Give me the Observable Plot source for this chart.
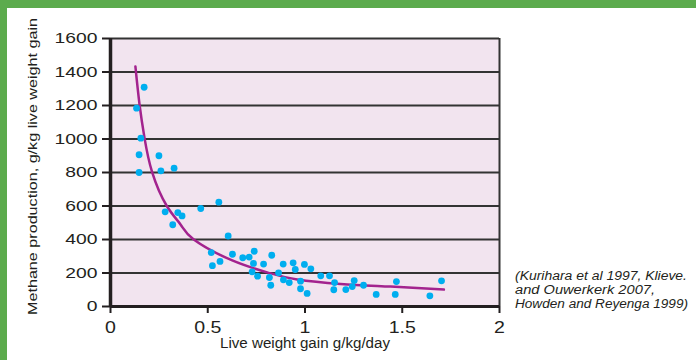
<!DOCTYPE html>
<html>
<head>
<meta charset="utf-8">
<script src="https://cdn.jsdelivr.net/npm/d3@7"></script>
<script src="https://cdn.jsdelivr.net/npm/@observablehq/plot@0.6"></script>
<style>
  html, body { margin: 0; padding: 0; background: #ffffff; }
  #wrap { position: relative; width: 696px; height: 360px; overflow: hidden; }
  #wrap svg { position: absolute; left: 0; top: 0; }
  .band { position: absolute; background: #5cab4d; }
</style>
</head>
<body>
<div id="wrap">
  <div class="band" style="left:0;top:0;width:696px;height:8px;"></div>
  <div class="band" style="left:0;top:0;width:7px;height:360px;"></div>
</div>
<script>
// Observed data points (live weight gain g/kg/day, methane g/kg live weight gain)
const gainX = [0.134,0.173,0.156,0.147,0.147,0.249,0.259,0.327,0.281,0.346,0.368,0.320,0.464,0.557,0.605,
  0.518,0.524,0.563,0.627,0.680,0.713,0.739,0.735,0.728,0.756,0.787,0.829,0.817,0.824,0.864,0.888,0.889,
  0.919,0.939,0.950,0.977,0.977,0.997,1.011,1.030,1.081,1.126,1.152,1.148,1.210,1.243,1.253,1.301,1.366,
  1.464,1.470,1.642,1.702];
const methaneY = [1184,1309,1005,906,800,900,810,826,565,561,541,488,585,623,421,
  322,244,269,312,291,295,330,257,207,181,253,306,173,127,201,253,159,
  143,261,221,151,106,251,78,225,183,183,143,100,101,119,155,127,72,
  72,149,64,153];

// Fitted trend curve
const curveX = [0.128,0.149,0.175,0.214,0.288,0.36,0.428,0.626,0.814,0.96,1.183,1.44,1.714];
const curveY = [1433,1208,1005,802,603,490,400,275,201,161,135,119,101];

// Axis ticks and texts
const xTicks = [0, 0.5, 1, 1.5, 2];
const yTicks = [0, 200, 400, 600, 800, 1000, 1200, 1400, 1600];
const xTitle = "Live weight gain g/kg/day";
const yTitle = "Methane production, g/kg live weight gain";
const captionLines = ["(Kurihara et al 1997, Klieve.", "and Ouwerkerk 2007,", "Howden and Reyenga 1999)"];

const points = gainX.map((x, i) => ({x, y: methaneY[i]}));
const curve = curveX.map((x, i) => ({x, y: curveY[i]}));

const ink = "#231f20";

const svg = Plot.plot({
  width: 696,
  height: 360,
  marginLeft: 110,
  marginRight: 197,
  marginTop: 38,
  marginBottom: 54,
  style: {fontFamily: "'Liberation Sans', Arial, sans-serif", background: "transparent", color: ink},
  x: {domain: [0, 2]},
  y: {domain: [0, 1600]},
  marks: [
    Plot.frame({fill: "#f2e4ef", stroke: null}),
    Plot.ruleY(yTicks.filter(d => d > 0), {stroke: "#333333", strokeWidth: 2}),
    Plot.ruleX([2], {stroke: "#333333", strokeWidth: 2}),
    Plot.axisY({ticks: yTicks, tickSize: 8, tickPadding: 5, fontSize: 14.5, color: ink, strokeWidth: 2,
      tickFormat: d => String(d), label: null}),
    Plot.axisX({ticks: xTicks, tickSize: 7, tickPadding: 7, fontSize: 17, color: ink, strokeWidth: 2,
      tickFormat: d => String(d), label: null}),
    Plot.ruleX([0], {stroke: ink, strokeWidth: 3.5}),
    Plot.ruleY([0], {stroke: ink, strokeWidth: 3}),
    Plot.line(curve, {x: "x", y: "y", stroke: "#a3238e", strokeWidth: 2.5, curve: "natural"}),
    Plot.dot(points, {x: "x", y: "y", r: 3.4, fill: "#00aeef", stroke: null}),
    Plot.text([yTitle], {text: d => d, frameAnchor: "left", dx: -78, dy: -6, rotate: -90, fontSize: 13.5,
      fill: ink, textAnchor: "middle", lineAnchor: "middle"}),
    Plot.text([xTitle], {text: d => d, frameAnchor: "bottom", dy: 37, fontSize: 14,
      fill: ink, textAnchor: "middle", lineAnchor: "middle"})
  ]
});

document.getElementById("wrap").prepend(svg);

// Caption to the right of the chart
const cap = d3.select(svg).append("g")
  .attr("font-style", "italic")
  .attr("font-size", 12.5)
  .attr("fill", ink)
  .attr("text-anchor", "start")
  .attr("font-family", "'Liberation Sans', Arial, sans-serif");
const capLen = [172, 140, 173];
captionLines.forEach((t, i) => {
  cap.append("text").attr("x", 515).attr("y", 279.5 + i * 14).text(t)
    .attr("textLength", capLen[i]).attr("lengthAdjust", "spacingAndGlyphs");
});

// Horizontal stretching of the typography, as in the reference
function stretch(sel, factor) {
  sel.each(function () {
    const w = this.getComputedTextLength();
    this.setAttribute("textLength", w * factor);
    this.setAttribute("lengthAdjust", "spacingAndGlyphs");
  });
}
stretch(d3.select(svg).selectAll('g[aria-label="y-axis tick label"] text'), 1.33);
stretch(d3.select(svg).selectAll('g[aria-label="x-axis tick label"] text'), 1.15);
d3.select(svg).selectAll("text").each(function () {
  if (this.textContent === yTitle) { this.setAttribute("textLength", 297); this.setAttribute("lengthAdjust", "spacingAndGlyphs"); }
  if (this.textContent === xTitle) { this.setAttribute("textLength", 170); this.setAttribute("lengthAdjust", "spacingAndGlyphs"); }
});
</script>
</body>
</html>
